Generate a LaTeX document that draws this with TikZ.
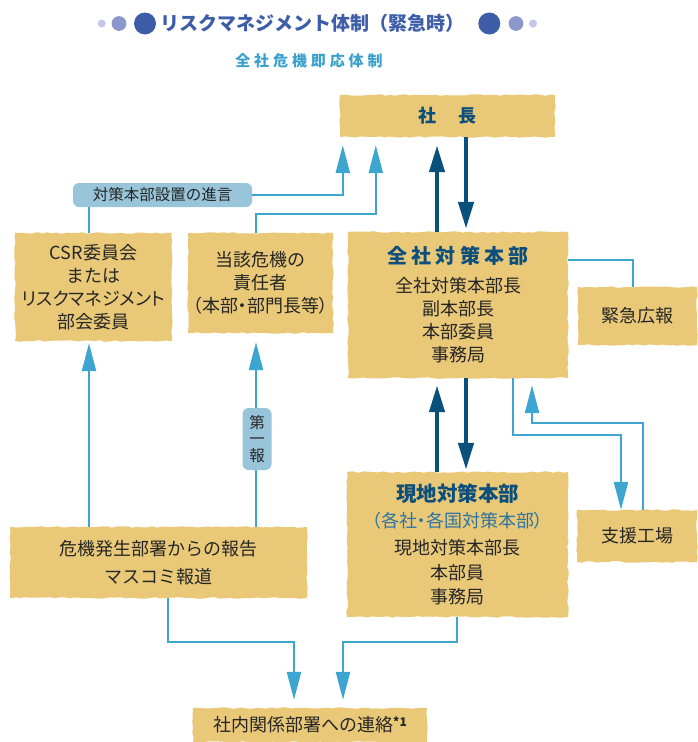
\documentclass[tikz,border=0pt]{standalone}
\usepackage{fontspec}
\usepackage{graphicx}
\setmainfont{Noto Sans CJK JP}
\newfontfamily\propfont[RawFeature=+palt]{Noto Sans CJK JP}
\newfontfamily\hqfont[LetterSpace=22]{Noto Sans CJK JP}
\newfontfamily\subfont[LetterSpace=26]{Noto Sans CJK JP}
\usetikzlibrary{arrows.meta,calc,decorations.pathmorphing}
\definecolor{woodc}{HTML}{E9C878}
\definecolor{txt}{HTML}{262626}
\definecolor{lbc}{HTML}{3DA6D0}
\definecolor{dbc}{HTML}{0B4F7B}
\definecolor{lblc}{HTML}{98C5D9}
\definecolor{ttl}{HTML}{3E5DA8}
\definecolor{dotm}{HTML}{8C98CC}
\definecolor{dots}{HTML}{C2C8E6}
\definecolor{subc}{HTML}{3AA0CC}
\definecolor{hqc}{HTML}{0D4F7C}
\definecolor{midc}{HTML}{2D74A2}
\tikzset{
  wood/.style={fill=woodc, inner sep=0pt, text=txt, align=center,
    font=\fontsize{18}{23}\selectfont,
    decorate, decoration={random steps, segment length=5pt, amplitude=0.8pt}},
  lbl/.style={fill=lblc, rounded corners=6pt, inner sep=0pt, text=txt, align=center},
  la/.style={draw=lbc, line width=2.4pt},
  lat/.style={la, -{Triangle[length=28pt,width=14pt]}},
  da/.style={draw=dbc, line width=4.5pt, -{Triangle[length=27pt,width=15pt]}},
}
\begin{document}
\begin{tikzpicture}[x=1pt,y=-1pt]
\useasboundingbox (0,0) rectangle (697,742);
% title
\fill[dots] (101.7,23.5) circle (4pt);
\fill[dotm] (119,23.5) circle (7.4pt);
\fill[ttl] (145,23.5) circle (11pt);
\fill[ttl] (489.3,23.5) circle (11pt);
\fill[dotm] (516,23.5) circle (7.4pt);
\fill[dots] (533,23.5) circle (4pt);
\node[text=ttl, font=\fontsize{19}{20}\bfseries] (title) at (312.5,23.5) {リスクマネジメント体制（緊急時）};
\node[text=subc, font=\fontsize{15}{16}\subfont\bfseries] (sub) at (309,60.5) {全社危機即応体制};
% boxes
\node[wood, minimum width=215pt, minimum height=42pt, text=hqc, font=\fontsize{18}{20}\bfseries] (ceo) at (447.5,116) {社\hspace{1.2em}長};
\node[lbl, minimum width=179pt, minimum height=24pt, font=\fontsize{15.5}{16}\selectfont] (adv) at (162.5,195) {対策本部設置の進言};
\node[wood, minimum width=157pt, minimum height=108pt] (csr) at (93.5,287) {CSR委員会\\または\\{\propfont リスクマネジメント}\\部会委員};
\node[wood, minimum width=145pt, minimum height=100pt] (resp) at (260.5,283) {当該危機の\\責任者\\{\propfont （本部・部門長等）}};
\node[wood, minimum width=220pt, minimum height=146pt] (hq) at (458,305) {{\color{hqc}\fontsize{20}{22}\hqfont\bfseries 全社対策本部}\\[6pt]全社対策本部長\\副本部長\\本部委員\\事務局};
\node[wood, minimum width=119pt, minimum height=58pt] (pr) at (637.5,316) {緊急広報};
\node[wood, minimum width=297pt, minimum height=71pt, font=\fontsize{18}{28}\selectfont] (rep) at (158.5,562.5) {危機発生部署からの報告\\マスコミ報道};
\node[wood, minimum width=221pt, minimum height=145pt, font=\fontsize{18}{24.5}\selectfont] (local) at (457.5,544.5) {{\color{hqc}\fontsize{20.5}{22}\bfseries 現地対策本部}\\[1pt]{\color{midc}\propfont （各社・各国対策本部）}\\[3pt]現地対策本部長\\本部員\\事務局};
\node[wood, minimum width=120pt, minimum height=52pt] (fac) at (637,536) {支援工場};
\node[wood, minimum width=234pt, minimum height=34pt] (int) at (310,725) {社内関係部署への連絡{\fontsize{12}{12}\bfseries\raisebox{5pt}{*1}}};
% connectors to ceo
\draw[lat, shorten >=8pt] (adv.east) -| ([xshift=3pt]ceo.south west);
\draw[lat, shorten >=8pt] ([xshift=-4.5pt]resp.north) -- ++(0,-19) -| ([xshift=36pt]ceo.south west);
\draw[la] ([xshift=-4.5pt]csr.north) -- ([xshift=-4.5pt]csr.north |- adv.south);
\draw[da, shorten >=8pt] ([xshift=-21pt]hq.north) -- ([xshift=-21pt]hq.north |- ceo.south);
\draw[da, shorten >=3pt] ([xshift=8pt]hq.north |- ceo.south) -- ([xshift=8pt]hq.north);
% hq to others
\draw[la] ([yshift=45pt]hq.east) -| ([xshift=-4.5pt]pr.north);
\draw[da, shorten >=7pt] ([xshift=-21pt]hq.south |- local.north) -- ([xshift=-21pt]hq.south);
\draw[da, shorten >=2pt] ([xshift=8pt]hq.south) -- ([xshift=8pt]hq.south |- local.north);
\draw[lat] ([xshift=55pt]hq.south) -- ++(0,57) -| ([xshift=-16pt]fac.north);
\draw[lat, shorten >=7pt] ([xshift=6pt]fac.north) -- ++(0,-87) -| ([xshift=74pt]hq.south);
% reports
\draw[lat, shorten >=2pt] ([xshift=-4.5pt]csr.south |- rep.north) -- ([xshift=-4.5pt]csr.south);
\draw[lat, shorten >=9pt] ([xshift=-4.5pt]resp.south |- rep.north) -- ([xshift=-4.5pt]resp.south);
\node[lbl, minimum width=29pt, minimum height=62pt, font=\fontsize{15.5}{16.5}\selectfont] (first) at (257,439) {第\\一\\報};
% to internal
\draw[lat, shorten >=8pt] ([xshift=9.5pt]rep.south) -- ++(0,44) -| ([xshift=-16pt]int.north);
\draw[lat, shorten >=8pt] ([xshift=-0.5pt]local.south) -- ++(0,25) -| ([xshift=33pt]int.north);
\end{tikzpicture}
\end{document}
